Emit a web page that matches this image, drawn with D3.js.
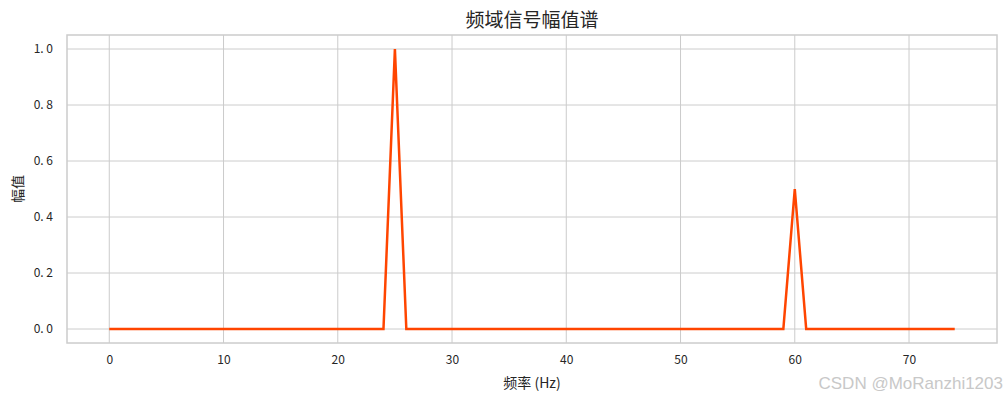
<!DOCTYPE html>
<html>
<head>
<meta charset="utf-8">
<script src="https://cdn.jsdelivr.net/npm/d3@7"></script>
<style>
  body { margin: 0; background: #fff; }
  svg { display: block; }
</style>
</head>
<body>
<div id="chart"></div>
<script>
// spectrum data: amplitude per integer frequency bin 0..74
const freqs = d3.range(0, 75);
const peakFreqs = [25, 60];
const peakAmps = [1.0, 0.5];
const amps = freqs.map(f => {
  const i = peakFreqs.indexOf(f);
  return i >= 0 ? peakAmps[i] : 0;
});
const xTicks = [0, 10, 20, 30, 40, 50, 60, 70];
const yTicks = [0, 0.2, 0.4, 0.6, 0.8, 1.0];

const width = 1006, height = 400;
const margin = { top: 35, right: 9, bottom: 57, left: 67 };
const innerW = width - margin.left - margin.right;
const innerH = height - margin.top - margin.bottom;
const cjk = '"Noto Sans CJK SC", "DejaVu Sans", sans-serif';

const svg = d3.select('#chart').append('svg')
  .attr('width', width)
  .attr('height', height);

const g = svg.append('g').attr('transform', `translate(${margin.left},${margin.top})`);

const x = d3.scaleLinear().domain([-3.7, 77.7]).range([0, innerW]);
const y = d3.scaleLinear().domain([-0.05, 1.05]).range([innerH, 0]);

// grid
g.append('g').selectAll('line').data(xTicks).join('line')
  .attr('x1', d => x(d)).attr('x2', d => x(d))
  .attr('y1', 0).attr('y2', innerH)
  .style('stroke', '#cccccc').style('stroke-width', 1);
g.append('g').selectAll('line').data(yTicks).join('line')
  .attr('x1', 0).attr('x2', innerW)
  .attr('y1', d => y(d)).attr('y2', d => y(d))
  .style('stroke', '#cccccc').style('stroke-width', 1);

// axes (labels only, seaborn whitegrid has no tick marks)
g.append('g')
  .attr('transform', `translate(0,${innerH})`)
  .call(d3.axisBottom(x).tickValues(xTicks).tickSize(0).tickPadding(12).tickFormat(d3.format('d')))
  .call(a => {
    a.select('.domain').remove();
    a.selectAll('text').style('fill', '#262626').style('font-size', '12px').style('font-family', cjk);
  });
g.append('g')
  .call(d3.axisLeft(y).tickValues(yTicks).tickSize(0).tickPadding(14).tickFormat(d => d.toFixed(1).replace('.', '. ')))
  .call(a => {
    a.select('.domain').remove();
    a.selectAll('text').style('fill', '#262626').style('font-size', '12px')
      .style('font-family', cjk).style('white-space', 'pre');
  });

// line
const line = d3.line().x((d, i) => x(freqs[i])).y(d => y(d));
g.append('path')
  .datum(amps)
  .attr('d', line)
  .style('fill', 'none')
  .style('stroke', '#ff4500')
  .style('stroke-width', 2.5)
  .style('stroke-linejoin', 'miter');

// frame
g.append('rect')
  .attr('x', 0).attr('y', 0)
  .attr('width', innerW).attr('height', innerH)
  .style('fill', 'none')
  .style('stroke', '#cccccc')
  .style('stroke-width', 1.5);

// title and axis labels
svg.append('text')
  .attr('x', margin.left + innerW / 2).attr('y', 27)
  .attr('text-anchor', 'middle')
  .style('font-family', cjk).style('font-size', '19px').style('fill', '#262626')
  .text('频域信号幅值谱');
svg.append('text')
  .attr('x', margin.left + innerW / 2).attr('y', 388)
  .attr('text-anchor', 'middle')
  .style('font-family', cjk).style('font-size', '14px').style('fill', '#262626')
  .style('white-space', 'pre')
  .text('频率 (Hz)');
svg.append('text')
  .attr('transform', `translate(23,${margin.top + innerH / 2}) rotate(-90)`)
  .attr('text-anchor', 'middle')
  .style('font-family', cjk).style('font-size', '14px').style('fill', '#262626')
  .text('幅值');

// watermark
svg.append('text')
  .attr('x', 1003).attr('y', 389)
  .attr('text-anchor', 'end')
  .style('font-family', '"Liberation Sans", Arial, sans-serif').style('font-size', '17px')
  .style('fill', '#c8c8c8')
  .text('CSDN @MoRanzhi1203');
</script>
</body>
</html>
